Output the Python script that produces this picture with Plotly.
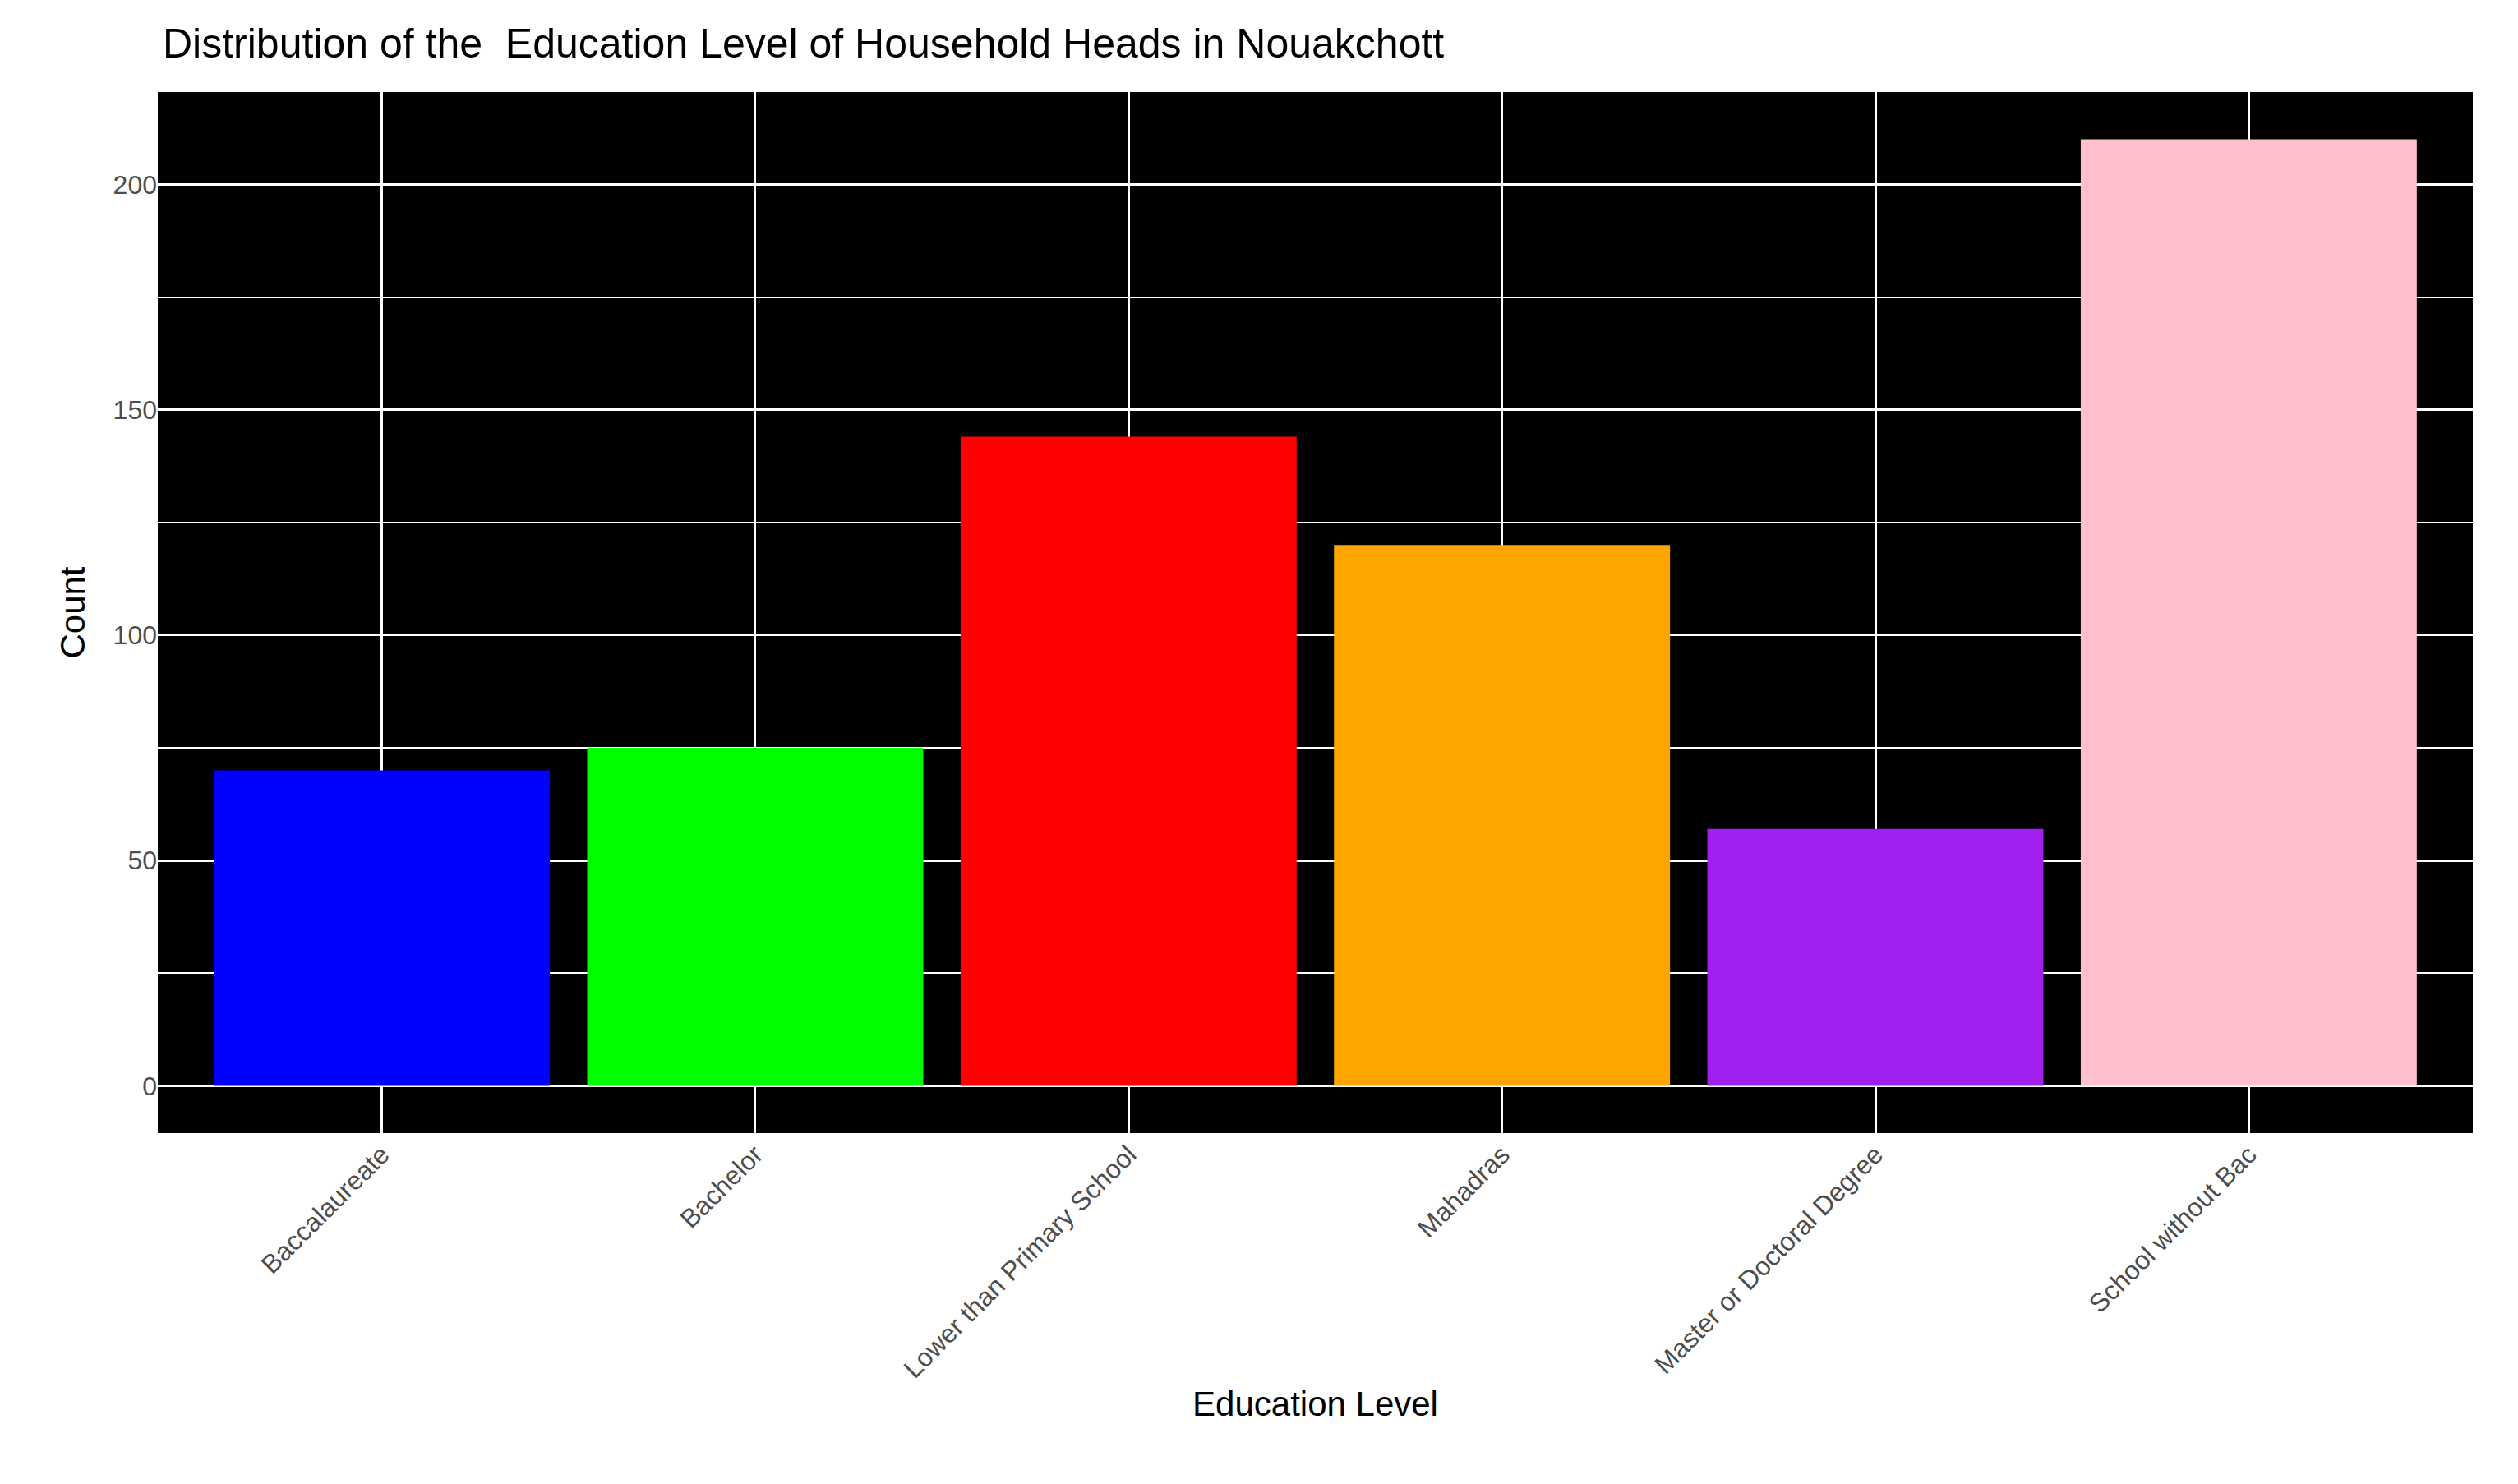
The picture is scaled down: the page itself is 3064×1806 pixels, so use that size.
import plotly.graph_objects as go

categories = ["Baccalaureate", "Bachelor", "Lower than Primary School", "Mahadras",
              "Master or Doctoral Degree", "School without Bac"]
counts = [70, 75, 144, 120, 57, 210]
colors = ["#0000FF", "#00FF00", "#FF0000", "#FFA500", "#A020F0", "#FFC0CB"]

fig = go.Figure(go.Bar(x=categories, y=counts, marker_color=colors, marker_line_width=0, width=0.9))
fig.update_layout(
    width=3064, height=1806,
    paper_bgcolor="white", plot_bgcolor="black",
    font=dict(family="Liberation Sans, Arial", color="black"),
    title=dict(text="Distribution of the  Education Level of Household Heads in Nouakchott",
               x=0.062, xanchor="left", y=0.985, yanchor="top", font=dict(size=50)),
    margin=dict(l=184, r=63, t=104, b=435),
    showlegend=False,
)
fig.update_xaxes(title=dict(text="Education Level", font=dict(size=42), standoff=10),
                 tickangle=-45, tickfont=dict(size=32, color="#4D4D4D"),
                 showgrid=True, gridcolor="white", gridwidth=3, ticks="", zeroline=False,
                 range=[-0.6, 5.6])
fig.update_yaxes(title=dict(text="Count", font=dict(size=42), standoff=20),
                 range=[-10.5, 220.5], tickvals=[0, 50, 100, 150, 200],
                 tickfont=dict(size=32, color="#4D4D4D"),
                 showgrid=True, gridcolor="white", gridwidth=3, zeroline=False, ticks="",
                 minor=dict(tickvals=[25, 75, 125, 175], showgrid=True, gridcolor="white", gridwidth=1.5))
fig.write_html("out.html")
